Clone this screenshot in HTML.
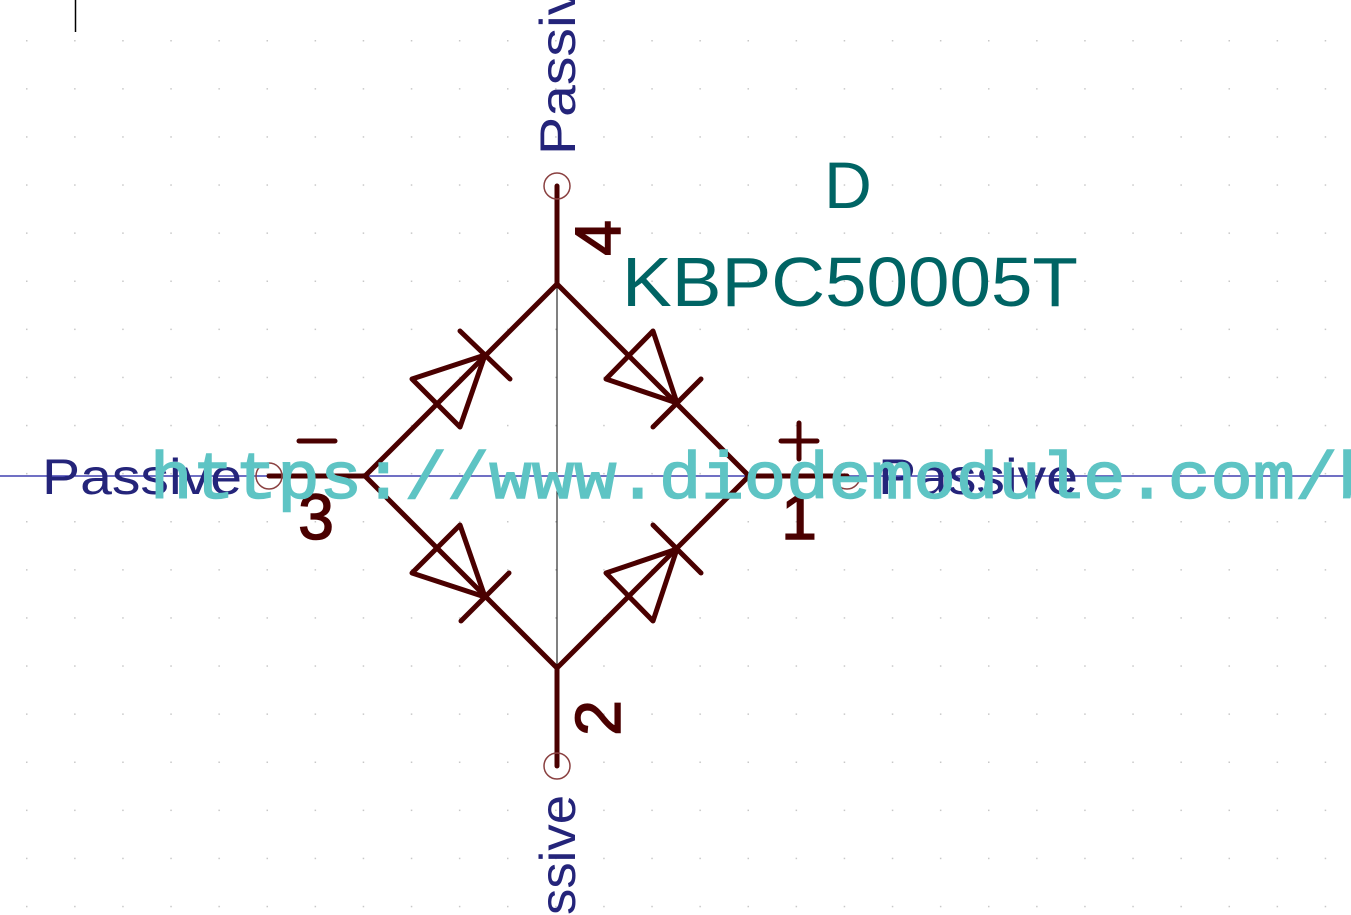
<!DOCTYPE html>
<html><head><meta charset="utf-8"><style>
html,body{margin:0;padding:0;background:#fff;width:1351px;height:915px;overflow:hidden}
svg{display:block}
text{font-family:"Liberation Sans",sans-serif}
</style></head><body>
<svg width="1351" height="915" viewBox="0 0 1351 915" style="overflow:hidden">
<defs>
<pattern id="grid" x="26" y="40" width="48.1" height="48.1" patternUnits="userSpaceOnUse">
<rect width="1.5" height="1.5" fill="#c8c8c8"/>
</pattern>
<clipPath id="clip"><rect width="1351" height="915"/></clipPath>
</defs>
<g clip-path="url(#clip)">
<rect width="1351" height="915" fill="url(#grid)"/>
<line x1="75.5" y1="0" x2="75.5" y2="32" stroke="#000" stroke-width="1.5"/>
<line x1="0" y1="476" x2="1351" y2="476" stroke="#1a1aa0" stroke-width="1.2"/>
<line x1="557" y1="284" x2="557" y2="668" stroke="#000" stroke-width="1"/>

<g stroke="#4a0000" stroke-width="5" stroke-linecap="round" stroke-linejoin="round" fill="none">
<polygon points="557,284 749,476 557,668 365,476"/>
<line x1="557" y1="186" x2="557" y2="284"/>
<line x1="557" y1="668" x2="557" y2="766"/>
<line x1="269" y1="476" x2="365" y2="476"/>
<line x1="749" y1="476" x2="847" y2="476"/>
<g><polygon points="412,379 485,355 460,427"/><line x1="460" y1="331" x2="510" y2="379"/></g>
<g><polygon points="606,379 653,331 677,403"/><line x1="653" y1="427" x2="701" y2="379"/></g>
<g><polygon points="412,573 460,525 485,597"/><line x1="461" y1="621" x2="509" y2="573"/></g>
<g><polygon points="606,573 653,621 677,549"/><line x1="653" y1="525" x2="701" y2="573"/></g>
<g><line x1="299" y1="441" x2="335" y2="441"/></g>
<g><line x1="781" y1="441" x2="817" y2="441"/><line x1="799" y1="423" x2="799" y2="459"/></g>
</g>
<g fill="none" stroke="#8a4040" stroke-width="1.5">
<circle cx="557" cy="186" r="13"/><circle cx="557" cy="766" r="13"/><circle cx="269" cy="476" r="13"/><circle cx="847" cy="476" r="13"/>
</g>

<g fill="#4a0000" stroke="#4a0000" stroke-width="1.5" font-size="64">
<text x="0" y="0" transform="translate(620,238) rotate(-90)" text-anchor="middle">4</text>
<text x="0" y="0" transform="translate(620,718) rotate(-90)" text-anchor="middle">2</text>
<text x="316" y="539" text-anchor="middle">3</text>
<text x="799" y="539" text-anchor="middle">1</text>
</g>

<g fill="#24247a" font-size="50">
<text x="0" y="0" transform="translate(575,155) rotate(-90)" textLength="200" lengthAdjust="spacingAndGlyphs">Passive</text>
<text x="0" y="0" transform="translate(575,915) rotate(-90)" textLength="120" lengthAdjust="spacingAndGlyphs">ssive</text>
<text x="42" y="494" textLength="200" lengthAdjust="spacingAndGlyphs">Passive</text>
<text x="878" y="494" textLength="200" lengthAdjust="spacingAndGlyphs">Passive</text>
</g>

<text x="848" y="208" fill="#006464" font-size="66" text-anchor="middle">D</text>
<text x="622" y="306" fill="#006464" font-size="70" textLength="456" lengthAdjust="spacingAndGlyphs">KBPC50005T</text>
<text x="150" y="498" fill="#5ec4c4" stroke="#5ec4c4" stroke-width="1.5" font-size="66" style="font-family:'Liberation Mono',monospace" textLength="1230" lengthAdjust="spacingAndGlyphs">https://www.diodemodule.com/b</text>
</g>
</svg>
</body></html>
